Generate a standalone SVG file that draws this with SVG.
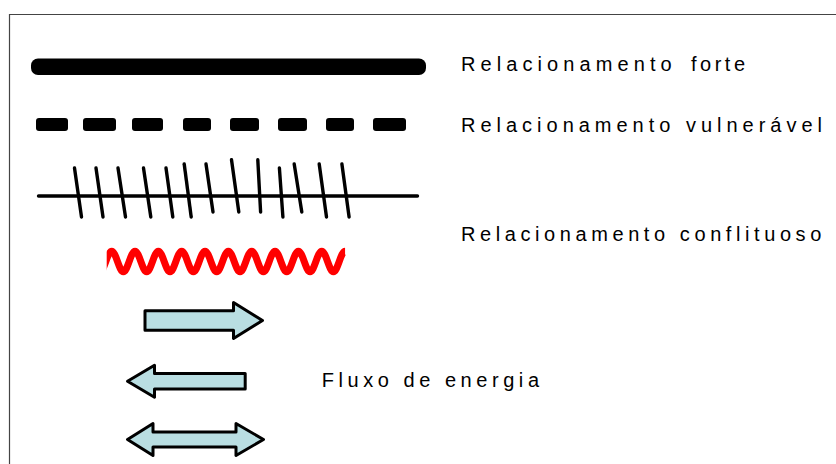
<svg xmlns="http://www.w3.org/2000/svg" width="836" height="464" viewBox="0 0 836 464">
<style>
.lbl{font-family:"Liberation Sans",Arial,sans-serif;font-size:20px;fill:#000}
.tick{stroke:#000;stroke-width:3.4;stroke-linecap:round;fill:none}
.arrow{fill:#b9dee2;stroke:#000;stroke-width:3;stroke-linejoin:round}
.dash{fill:#000}
</style>
<defs>
<clipPath id="waveClip"><rect x="106.7" y="240" width="240" height="42"/></clipPath>
<filter id="soft" x="-5%" y="-30%" width="110%" height="160%"><feGaussianBlur stdDeviation="0.7"/></filter>
</defs>
<rect x="0" y="0" width="836" height="464" fill="#fff"/>
<path id="frame" d="M9.5,464 V14.5 H836" fill="none" stroke="#444" stroke-width="1.2"/>

<g id="connectors">
<g id="strong-line">
<rect x="31" y="58.5" width="395" height="16.5" rx="7" fill="#000"/>
</g>
<g id="vulnerable-line">
<rect class="dash" x="36" y="118" width="32" height="13" rx="3"/>
<rect class="dash" x="83" y="118" width="33" height="13" rx="3"/>
<rect class="dash" x="132" y="118" width="31" height="13" rx="3"/>
<rect class="dash" x="183" y="118" width="28" height="13" rx="3"/>
<rect class="dash" x="230" y="118" width="29" height="13" rx="3"/>
<rect class="dash" x="278" y="118" width="29" height="13" rx="3"/>
<rect class="dash" x="326" y="118" width="28" height="13" rx="3"/>
<rect class="dash" x="373" y="118" width="33" height="13" rx="3"/>
</g>
<g id="conflict-line">
<line class="tick" x1="38.5" y1="196" x2="417.5" y2="196"/>
<line class="tick" x1="74.5" y1="168" x2="81.5" y2="217"/>
<line class="tick" x1="96" y1="168" x2="103" y2="217"/>
<line class="tick" x1="118" y1="168" x2="125.5" y2="217"/>
<line class="tick" x1="143.5" y1="168" x2="150.8" y2="217"/>
<line class="tick" x1="166" y1="168" x2="172.8" y2="217"/>
<line class="tick" x1="184.2" y1="164" x2="191.2" y2="217"/>
<line class="tick" x1="206" y1="164" x2="213" y2="212"/>
<line class="tick" x1="231.5" y1="159.8" x2="238.8" y2="212"/>
<line class="tick" x1="257.8" y1="159.8" x2="260.6" y2="212"/>
<line class="tick" x1="279.4" y1="168" x2="282.9" y2="217"/>
<line class="tick" x1="294.2" y1="164" x2="301.8" y2="212"/>
<line class="tick" x1="319.2" y1="164" x2="326.5" y2="217"/>
<line class="tick" x1="341.9" y1="164" x2="349.1" y2="217"/>
</g>
<g id="conflict-wave" filter="url(#soft)">
<path clip-path="url(#waveClip)" fill="none" stroke="#ff0000" stroke-width="7" d="M100,271.8 c4.25,0 7.42,-20.6 11.67,-20.6 s7.42,20.6 11.67,20.6 s7.42,-20.6 11.67,-20.6 s7.42,20.6 11.67,20.6 s7.42,-20.6 11.67,-20.6 s7.42,20.6 11.67,20.6 s7.42,-20.6 11.67,-20.6 s7.42,20.6 11.67,20.6 s7.42,-20.6 11.67,-20.6 s7.42,20.6 11.67,20.6 s7.42,-20.6 11.67,-20.6 s7.42,20.6 11.67,20.6 s7.42,-20.6 11.67,-20.6 s7.42,20.6 11.67,20.6 s7.42,-20.6 11.67,-20.6 s7.42,20.6 11.67,20.6 s7.42,-20.6 11.67,-20.6 s7.42,20.6 11.67,20.6 s7.42,-20.6 11.67,-20.6 s7.42,20.6 11.67,20.6 s7.42,-20.6 11.67,-20.6"/>
</g>
<g id="arrow-right">
<path class="arrow" d="M145,310.8 H233.5 V302.5 L262.5,320.5 L233.5,338.5 V330.2 H145 Z"/>
</g>
<g id="arrow-left">
<path class="arrow" d="M245.2,373.5 H154.5 V365.3 L127.5,381.3 L154.5,397.3 V389.1 H245.2 Z"/>
</g>
<g id="arrow-both">
<path class="arrow" d="M127.5,439.5 L153,423.5 V431.9 H236 V423.5 L263.5,439.5 L236,455.5 V447.1 H153 V455.5 Z"/>
</g>
</g>

<g id="label-forte">
<text class="lbl" y="70.7"><tspan x="461" textLength="210.7" lengthAdjust="spacing">Relacionamento</tspan> <tspan x="691" textLength="54" lengthAdjust="spacing">forte</tspan></text>
</g>
<g id="label-vulneravel">
<text class="lbl" x="461" y="131.7" textLength="361" lengthAdjust="spacing">Relacionamento vulnerável</text>
</g>
<g id="label-conflituoso">
<text class="lbl" x="461" y="240.7" textLength="360.3" lengthAdjust="spacing">Relacionamento conflituoso</text>
</g>
<g id="label-energia">
<text class="lbl" x="321.7" y="386.7" textLength="217.3" lengthAdjust="spacing">Fluxo de energia</text>
</g>
</svg>
